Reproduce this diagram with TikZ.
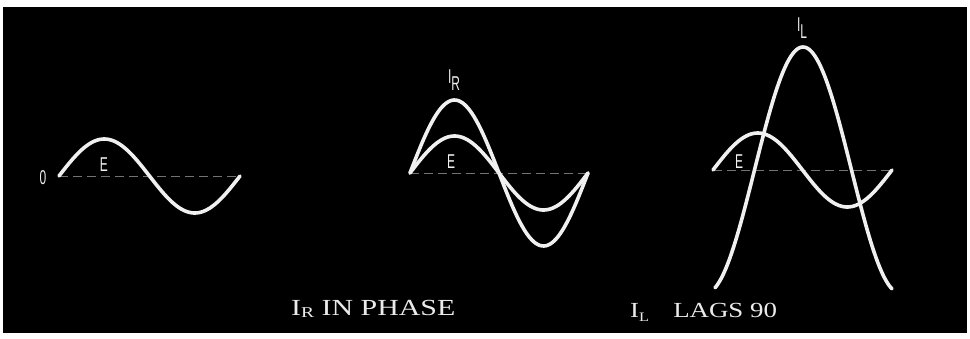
\documentclass[tikz,border=0pt]{standalone}
\usepackage{fontspec}
\setmainfont{Liberation Serif}
\newfontfamily\lblfont{Liberation Sans}
\begin{document}
\begin{tikzpicture}[x=1pt,y=-1pt,
  wave/.style={draw=white!94!black,line width=3.6pt,line cap=round,line join=round},
  axisline/.style={draw=white!45!black,line width=0.8pt,dash pattern=on 9pt off 5pt},
  lbl/.style={text=white!94!black,inner sep=0pt,font=\lblfont\fontsize{20}{20}\selectfont},
  captext/.style={text=white!92!black,inner sep=0pt,anchor=base west}]
\useasboundingbox (0,0) rectangle (970,338);
\fill[white] (0,0) rectangle (970,338);
\fill[black] (3,7) rectangle (967,333);
% panel 1
\coordinate (a1) at (59,176);
\coordinate (a2) at (240,176);
\draw[axisline] (a1) -- (a2);
\draw[wave] plot[domain=59:240,samples=90] (\x,{176-37*sin((\x-59)/181*360)});
\node[lbl] (zero) at (43,178) {\scalebox{0.6}[1]{0}};
\node[lbl] (e1) at (104,165) {\scalebox{0.6}[1]{E}};
% panel 2
\coordinate (b1) at (410,173);
\coordinate (b2) at (588,173);
\draw[axisline] (b1) -- (b2);
\draw[wave] plot[domain=410:588,samples=90] (\x,{173-37*sin((\x-410)/178*360)});
\draw[wave] plot[domain=410:588,samples=90] (\x,{173-73*sin((\x-410)/178*360)});
\node[lbl] (e2) at (451,162) {\scalebox{0.6}[1]{E}};
\node[lbl] (ir) at (454,80) {\scalebox{0.6}[1]{I\raisebox{-0.35em}{R}}};
% panel 3
\coordinate (c1) at (713,170);
\coordinate (c2) at (892,170);
\draw[axisline] (c1) -- (c2);
\draw[wave] plot[domain=713:892,samples=90] (\x,{170-37*sin((\x-713)/179*360)});
\draw[wave] plot[domain=715:892,samples=120] (\x,{170-123*cos((\x-803)/194*360)});
\node[lbl] (e3) at (739,162) {\scalebox{0.6}[1]{E}};
\node[lbl] (il) at (802,28) {\scalebox{0.6}[1]{I\raisebox{-0.35em}{L}}};
% captions
\node[captext] (capR) at (291,315) {\scalebox{1.3}[1]{\fontsize{23}{23}\selectfont I\raisebox{-0.12em}{\fontsize{15}{15}\selectfont R} IN PHASE}};
\node[captext] (capL) at (630,317) {\scalebox{1.25}[1]{\fontsize{21.5}{21.5}\selectfont I\raisebox{-0.2em}{\fontsize{13}{13}\selectfont L}\hspace{0.9em}LAGS 90}};
\end{tikzpicture}
\end{document}
